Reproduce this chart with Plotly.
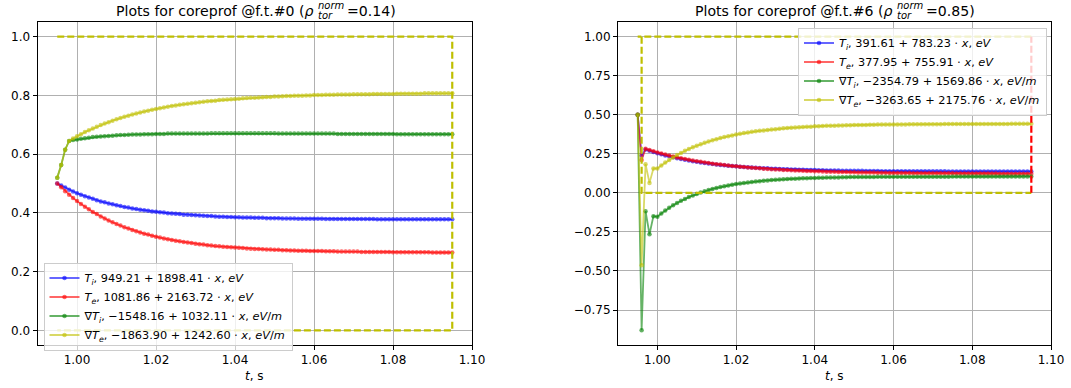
import plotly.graph_objects as go

# ---------------- data ----------------
time_s = [0.995, 0.996, 0.997, 0.998, 0.999, 1.000, 1.001, 1.002, 1.003, 1.004,
          1.005, 1.006, 1.007, 1.008, 1.009, 1.010, 1.011, 1.012, 1.013, 1.014,
          1.015, 1.016, 1.017, 1.018, 1.019, 1.020, 1.021, 1.022, 1.023, 1.024,
          1.025, 1.026, 1.027, 1.028, 1.029, 1.030, 1.031, 1.032, 1.033, 1.034,
          1.035, 1.036, 1.037, 1.038, 1.039, 1.040, 1.041, 1.042, 1.043, 1.044,
          1.045, 1.046, 1.047, 1.048, 1.049, 1.050, 1.051, 1.052, 1.053, 1.054,
          1.055, 1.056, 1.057, 1.058, 1.059, 1.060, 1.061, 1.062, 1.063, 1.064,
          1.065, 1.066, 1.067, 1.068, 1.069, 1.070, 1.071, 1.072, 1.073, 1.074,
          1.075, 1.076, 1.077, 1.078, 1.079, 1.080, 1.081, 1.082, 1.083, 1.084,
          1.085, 1.086, 1.087, 1.088, 1.089, 1.090, 1.091, 1.092, 1.093, 1.094,
          1.095]

left_Ti = [0.500, 0.493, 0.486, 0.479, 0.473, 0.467, 0.462, 0.457, 0.452, 0.448,
           0.443, 0.439, 0.436, 0.432, 0.429, 0.426, 0.423, 0.420, 0.418, 0.415,
           0.413, 0.411, 0.409, 0.407, 0.405, 0.404, 0.402, 0.401, 0.399, 0.398,
           0.397, 0.396, 0.394, 0.394, 0.393, 0.392, 0.391, 0.390, 0.389, 0.389,
           0.388, 0.387, 0.387, 0.386, 0.386, 0.385, 0.385, 0.384, 0.384, 0.384,
           0.383, 0.383, 0.383, 0.382, 0.382, 0.382, 0.382, 0.381, 0.381, 0.381,
           0.381, 0.380, 0.380, 0.380, 0.380, 0.380, 0.380, 0.380, 0.379, 0.379,
           0.379, 0.379, 0.379, 0.379, 0.379, 0.379, 0.379, 0.379, 0.379, 0.379,
           0.379, 0.378, 0.378, 0.378, 0.378, 0.378, 0.378, 0.378, 0.378, 0.378,
           0.378, 0.378, 0.378, 0.378, 0.378, 0.378, 0.378, 0.378, 0.378, 0.378,
           0.378]

left_Te = [0.500, 0.487, 0.474, 0.462, 0.451, 0.440, 0.430, 0.421, 0.412, 0.403,
           0.396, 0.388, 0.381, 0.374, 0.368, 0.362, 0.357, 0.351, 0.347, 0.342,
           0.337, 0.333, 0.329, 0.326, 0.322, 0.319, 0.316, 0.313, 0.310, 0.308,
           0.305, 0.303, 0.301, 0.299, 0.297, 0.295, 0.293, 0.292, 0.290, 0.289,
           0.287, 0.286, 0.285, 0.284, 0.283, 0.282, 0.281, 0.280, 0.279, 0.278,
           0.277, 0.277, 0.276, 0.275, 0.275, 0.274, 0.274, 0.273, 0.273, 0.272,
           0.272, 0.271, 0.271, 0.271, 0.270, 0.270, 0.270, 0.270, 0.269, 0.269,
           0.269, 0.268, 0.268, 0.268, 0.268, 0.268, 0.268, 0.267, 0.267, 0.267,
           0.267, 0.267, 0.267, 0.267, 0.267, 0.266, 0.266, 0.266, 0.266, 0.266,
           0.266, 0.266, 0.266, 0.266, 0.266, 0.265, 0.265, 0.265, 0.265, 0.265,
           0.265]

left_gTi = [0.520, 0.563, 0.615, 0.645, 0.648, 0.650, 0.652, 0.654, 0.656, 0.658,
            0.659, 0.660, 0.661, 0.662, 0.663, 0.664, 0.665, 0.665, 0.666, 0.667,
            0.667, 0.667, 0.668, 0.668, 0.668, 0.669, 0.669, 0.669, 0.670, 0.670,
            0.670, 0.670, 0.670, 0.670, 0.670, 0.670, 0.670, 0.670, 0.670, 0.671,
            0.671, 0.671, 0.671, 0.671, 0.671, 0.671, 0.671, 0.671, 0.671, 0.671,
            0.671, 0.671, 0.671, 0.671, 0.671, 0.671, 0.670, 0.670, 0.670, 0.670,
            0.670, 0.670, 0.670, 0.670, 0.670, 0.670, 0.670, 0.670, 0.670, 0.670,
            0.670, 0.669, 0.669, 0.669, 0.669, 0.669, 0.669, 0.669, 0.669, 0.669,
            0.669, 0.669, 0.669, 0.669, 0.669, 0.669, 0.668, 0.668, 0.668, 0.668,
            0.668, 0.668, 0.668, 0.668, 0.668, 0.668, 0.668, 0.668, 0.668, 0.668,
            0.668]

left_gTe = [0.520, 0.563, 0.615, 0.645, 0.653, 0.661, 0.668, 0.675, 0.681, 0.687,
            0.693, 0.699, 0.704, 0.709, 0.714, 0.719, 0.723, 0.727, 0.731, 0.735,
            0.738, 0.742, 0.745, 0.748, 0.751, 0.754, 0.756, 0.759, 0.761, 0.764,
            0.766, 0.768, 0.770, 0.772, 0.773, 0.775, 0.777, 0.778, 0.780, 0.781,
            0.782, 0.784, 0.785, 0.786, 0.787, 0.788, 0.789, 0.790, 0.791, 0.792,
            0.792, 0.793, 0.794, 0.795, 0.795, 0.796, 0.796, 0.797, 0.798, 0.798,
            0.799, 0.799, 0.799, 0.800, 0.800, 0.801, 0.801, 0.801, 0.802, 0.802,
            0.802, 0.803, 0.803, 0.803, 0.803, 0.804, 0.804, 0.804, 0.804, 0.804,
            0.805, 0.805, 0.805, 0.805, 0.805, 0.805, 0.806, 0.806, 0.806, 0.806,
            0.806, 0.806, 0.806, 0.807, 0.807, 0.807, 0.807, 0.807, 0.807, 0.807,
            0.807]

right_Ti = [0.500, 0.240, 0.278, 0.269, 0.261, 0.254, 0.247, 0.240, 0.234, 0.228,
            0.222, 0.217, 0.212, 0.207, 0.203, 0.199, 0.195, 0.192, 0.188, 0.185,
            0.182, 0.179, 0.177, 0.174, 0.172, 0.170, 0.168, 0.166, 0.164, 0.162,
            0.161, 0.159, 0.158, 0.157, 0.155, 0.154, 0.153, 0.152, 0.151, 0.150,
            0.149, 0.148, 0.148, 0.147, 0.146, 0.146, 0.145, 0.145, 0.144, 0.144,
            0.143, 0.143, 0.142, 0.142, 0.142, 0.141, 0.141, 0.141, 0.140, 0.140,
            0.140, 0.140, 0.139, 0.139, 0.139, 0.139, 0.139, 0.139, 0.138, 0.138,
            0.138, 0.138, 0.138, 0.138, 0.138, 0.138, 0.138, 0.138, 0.138, 0.137,
            0.137, 0.137, 0.137, 0.137, 0.137, 0.137, 0.137, 0.137, 0.137, 0.137,
            0.137, 0.137, 0.137, 0.137, 0.137, 0.137, 0.137, 0.137, 0.137, 0.137,
            0.137]

right_Te = [0.500, 0.210, 0.282, 0.274, 0.266, 0.259, 0.252, 0.245, 0.239, 0.233,
            0.227, 0.222, 0.217, 0.212, 0.207, 0.203, 0.199, 0.195, 0.191, 0.187,
            0.184, 0.181, 0.178, 0.175, 0.172, 0.170, 0.167, 0.165, 0.163, 0.161,
            0.159, 0.157, 0.155, 0.153, 0.152, 0.150, 0.149, 0.147, 0.146, 0.145,
            0.144, 0.143, 0.141, 0.140, 0.140, 0.139, 0.138, 0.137, 0.136, 0.135,
            0.135, 0.134, 0.133, 0.133, 0.132, 0.132, 0.131, 0.131, 0.130, 0.130,
            0.130, 0.129, 0.129, 0.129, 0.128, 0.128, 0.128, 0.127, 0.127, 0.127,
            0.126, 0.126, 0.126, 0.126, 0.125, 0.125, 0.125, 0.125, 0.125, 0.125,
            0.125, 0.124, 0.124, 0.124, 0.124, 0.124, 0.124, 0.124, 0.124, 0.124,
            0.124, 0.124, 0.123, 0.123, 0.123, 0.123, 0.123, 0.123, 0.123, 0.123,
            0.123]

right_gTi = [0.500, -0.880, -0.117, -0.265, -0.149, -0.153, -0.132, -0.113, -0.096, -0.080,
             -0.065, -0.051, -0.039, -0.027, -0.017, -0.007, 0.002, 0.010, 0.018, 0.025,
             0.031, 0.037, 0.042, 0.047, 0.052, 0.056, 0.060, 0.064, 0.067, 0.070,
             0.073, 0.075, 0.078, 0.080, 0.082, 0.084, 0.086, 0.087, 0.089, 0.090,
             0.091, 0.092, 0.093, 0.094, 0.095, 0.096, 0.097, 0.097, 0.098, 0.098,
             0.099, 0.099, 0.100, 0.100, 0.101, 0.101, 0.101, 0.102, 0.102, 0.102,
             0.102, 0.103, 0.103, 0.103, 0.103, 0.103, 0.103, 0.103, 0.103, 0.104,
             0.104, 0.104, 0.104, 0.104, 0.104, 0.104, 0.104, 0.104, 0.104, 0.104,
             0.105, 0.105, 0.105, 0.105, 0.105, 0.105, 0.105, 0.105, 0.105, 0.105,
             0.105, 0.105, 0.105, 0.105, 0.105, 0.105, 0.105, 0.105, 0.105, 0.105,
             0.105]

right_gTe = [0.500, -0.463, 0.184, 0.064, 0.156, 0.156, 0.176, 0.194, 0.211, 0.227,
             0.242, 0.256, 0.269, 0.281, 0.292, 0.302, 0.312, 0.321, 0.329, 0.337,
             0.344, 0.351, 0.357, 0.363, 0.368, 0.373, 0.378, 0.383, 0.387, 0.391,
             0.394, 0.397, 0.400, 0.403, 0.406, 0.408, 0.411, 0.413, 0.415, 0.417,
             0.418, 0.420, 0.422, 0.423, 0.424, 0.426, 0.427, 0.428, 0.429, 0.430,
             0.430, 0.431, 0.432, 0.433, 0.433, 0.434, 0.434, 0.435, 0.435, 0.436,
             0.436, 0.437, 0.437, 0.437, 0.437, 0.438, 0.438, 0.438, 0.438, 0.439,
             0.439, 0.439, 0.439, 0.440, 0.440, 0.440, 0.440, 0.440, 0.441, 0.441,
             0.441, 0.441, 0.441, 0.441, 0.441, 0.441, 0.441, 0.441, 0.441, 0.441,
             0.441, 0.441, 0.441, 0.441, 0.441, 0.442, 0.442, 0.442, 0.442, 0.442,
             0.442]

# dashed frame lines (time, value)
left_box_t = [0.995, 1.095, 1.095, 0.995]
left_box_v = [1.0, 1.0, 0.0, 0.0]
right_box_t = [1.095, 0.995, None, 0.996, 0.996, 1.095]
right_box_v = [1.0, 1.0, None, 1.0, 0.0, 0.0]
right_edge_t = [1.095, 1.095]
right_edge_v = [0.0, 1.0]

left_names = [
    "<i>T</i><sub><i>i</i></sub>, 949.21 + 1898.41 ⋅ <i>x</i>, <i>eV</i>",
    "<i>T</i><sub><i>e</i></sub>, 1081.86 + 2163.72 ⋅ <i>x</i>, <i>eV</i>",
    "∇<i>T</i><sub><i>i</i></sub>, −1548.16 + 1032.11 ⋅ <i>x</i>, <i>eV</i>/<i>m</i>",
    "∇<i>T</i><sub><i>e</i></sub>, −1863.90 + 1242.60 ⋅ <i>x</i>, <i>eV</i>/<i>m</i>",
]
right_names = [
    "<i>T</i><sub><i>i</i></sub>, 391.61 + 783.23 ⋅ <i>x</i>, <i>eV</i>",
    "<i>T</i><sub><i>e</i></sub>, 377.95 + 755.91 ⋅ <i>x</i>, <i>eV</i>",
    "∇<i>T</i><sub><i>i</i></sub>, −2354.79 + 1569.86 ⋅ <i>x</i>, <i>eV</i>/<i>m</i>",
    "∇<i>T</i><sub><i>e</i></sub>, −3263.65 + 2175.76 ⋅ <i>x</i>, <i>eV</i>/<i>m</i>",
]

x_ticks = [1.00, 1.02, 1.04, 1.06, 1.08, 1.10]
x_tick_text = ["1.00", "1.02", "1.04", "1.06", "1.08", "1.10"]
left_y_ticks = [0.0, 0.2, 0.4, 0.6, 0.8, 1.0]
left_y_tick_text = ["0.0", "0.2", "0.4", "0.6", "0.8", "1.0"]
right_y_ticks = [-0.75, -0.5, -0.25, 0.0, 0.25, 0.5, 0.75, 1.0]
right_y_tick_text = ["−0.75", "−0.50", "−0.25", "0.00", "0.25", "0.50", "0.75", "1.00"]

# ---------------- figure ----------------
W, H = 1071, 388
FONT = "DejaVu Sans"
def px(x):
    return x / W
def py(y):
    return 1 - y / H

colors = ["rgba(0,0,255,0.6)", "rgba(255,0,0,0.6)", "rgba(0,128,0,0.6)", "rgba(191,191,0,0.6)"]

fig = go.Figure()

left_series = [left_Ti, left_Te, left_gTi, left_gTe]
right_series = [right_Ti, right_Te, right_gTi, right_gTe]

for vals, name, col in zip(left_series, left_names, colors):
    fig.add_trace(go.Scatter(x=time_s, y=vals, name=name, mode="lines+markers",
                             line=dict(color=col, width=1.8),
                             marker=dict(color=col, size=4.5, line=dict(width=0)),
                             xaxis="x", yaxis="y", legend="legend"))
fig.add_trace(go.Scatter(x=left_box_t, y=left_box_v, mode="lines", showlegend=False,
                         line=dict(color="rgb(191,191,0)", width=2.2, dash="7px,3px"),
                         xaxis="x", yaxis="y", hoverinfo="skip"))

for vals, name, col in zip(right_series, right_names, colors):
    fig.add_trace(go.Scatter(x=time_s, y=vals, name=name, mode="lines+markers",
                             line=dict(color=col, width=1.8),
                             marker=dict(color=col, size=4.5, line=dict(width=0)),
                             xaxis="x2", yaxis="y2", legend="legend2"))
fig.add_trace(go.Scatter(x=right_box_t, y=right_box_v, mode="lines", showlegend=False,
                         line=dict(color="rgb(191,191,0)", width=2.2, dash="7px,3px"),
                         xaxis="x2", yaxis="y2", hoverinfo="skip"))
fig.add_trace(go.Scatter(x=right_edge_t, y=right_edge_v, mode="lines", showlegend=False,
                         line=dict(color="rgb(255,0,0)", width=2.2, dash="7px,3px"),
                         xaxis="x2", yaxis="y2", hoverinfo="skip"))

axis_common = dict(showline=True, mirror=True, linecolor="black", linewidth=1,
                   ticks="outside", ticklen=4, tickwidth=1, tickcolor="black",
                   showgrid=True, gridcolor="#b0b0b0", gridwidth=1, zeroline=False,
                   tickfont=dict(family=FONT, size=12, color="black"), automargin=False)

LEG_FONT = 11.3
ydom = [py(345), py(22)]
fig.update_layout(
    width=W, height=H, margin=dict(l=0, r=0, t=0, b=0),
    paper_bgcolor="white", plot_bgcolor="white",
    font=dict(family=FONT, size=12, color="black"),
    xaxis=dict(domain=[px(37.5), px(472)], range=[0.99, 1.10], anchor="y",
               tickvals=x_ticks, ticktext=x_tick_text, **axis_common),
    yaxis=dict(domain=ydom, range=[-0.05, 1.05], anchor="x",
               tickvals=left_y_ticks, ticktext=left_y_tick_text, **axis_common),
    xaxis2=dict(domain=[px(618), px(1051)], range=[0.99, 1.10], anchor="y2",
                tickvals=x_ticks, ticktext=x_tick_text, **axis_common),
    yaxis2=dict(domain=ydom, range=[-0.974, 1.094], anchor="x2",
                tickvals=right_y_ticks, ticktext=right_y_tick_text, **axis_common),
    legend=dict(x=px(43.5), y=py(262.5), xanchor="left", yanchor="top",
                bgcolor="rgba(255,255,255,0.8)", bordercolor="#cccccc", borderwidth=1,
                font=dict(family=FONT, size=LEG_FONT, color="black"), tracegroupgap=0,
                itemwidth=30),
    legend2=dict(x=px(1047), y=py(27.5), xanchor="right", yanchor="top",
                 bgcolor="rgba(255,255,255,0.8)", bordercolor="#cccccc", borderwidth=1,
                 font=dict(family=FONT, size=LEG_FONT, color="black"), tracegroupgap=0,
                 itemwidth=30),
    showlegend=True,
)

# titles (with stacked super/sub script) and axis labels
annots = []
title_parts = [
    ("Plots for coreprof @f.t.#0 (<i>ρ</i>", 315.6, 344.5, "=0.14)"),
    ("Plots for coreprof @f.t.#6 (<i>ρ</i>", 895.4, 924.3, "=0.85)"),
]
for main, rho_end, eq_start, tail in title_parts:
    annots.append(dict(text=main, x=px(rho_end), y=py(10.5), xanchor="right", yanchor="middle",
                       font=dict(family=FONT, size=14.1)))
    annots.append(dict(text="<i>norm</i>", x=px(rho_end), y=py(5.5), xanchor="left", yanchor="middle",
                       font=dict(family=FONT, size=10)))
    annots.append(dict(text="<i>tor</i>", x=px(rho_end), y=py(15.5), xanchor="left", yanchor="middle",
                       font=dict(family=FONT, size=10)))
    annots.append(dict(text=tail, x=px(eq_start), y=py(10.5), xanchor="left", yanchor="middle",
                       font=dict(family=FONT, size=14.1)))
for cx in [254.75, 834.5]:
    annots.append(dict(text="<i>t</i>, s", x=px(cx), y=py(376), xanchor="center", yanchor="middle",
                       font=dict(family=FONT, size=12)))
for a in annots:
    a.update(xref="paper", yref="paper", showarrow=False)
fig.update_layout(annotations=annots)

fig.write_html("out.html")
